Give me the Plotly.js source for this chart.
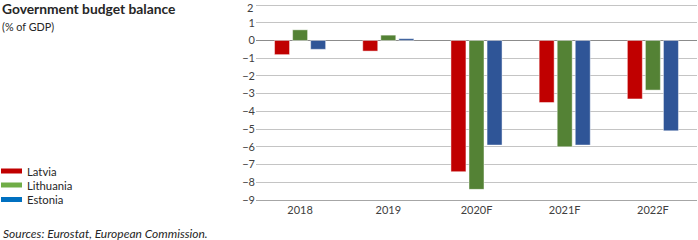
<!DOCTYPE html>
<html>
<head>
<meta charset="utf-8">
<script src="https://cdn.plot.ly/plotly-3.0.1.min.js"></script>
<style>
  html, body { margin: 0; padding: 0; background: #fff; }
  #chart { width: 698px; height: 240px; }
</style>
</head>
<body>
<div id="chart"></div>
<script>
// Government budget balance, % of GDP
const categories = ['2018', '2019', '2020F', '2021F', '2022F'];
const latvia    = [-0.8, -0.6, -7.4, -3.5, -3.3];
const lithuania = [ 0.6,  0.3, -8.4, -6.0, -2.8];
const estonia   = [-0.5,  0.1, -5.9, -5.9, -5.1];
const yTicks    = [2, 1, 0, -1, -2, -3, -4, -5, -6, -7, -8, -9];

const seriesNames = ['Latvia', 'Lithuania', 'Estonia'];
const barColors = ['#c00000', '#548235', '#2f5597'];
const legendColors = ['#c00000', '#70ad47', '#0070c0'];

const W = 698, H = 240;
const M = { l: 256, r: 1, t: 3, b: 40 };
const plotW = W - M.l - M.r, plotH = H - M.t - M.b;
// pixel -> paper helpers for the free-standing legend and notes
const px = x => (x - M.l) / plotW;
const py = y => (H - M.b - y) / plotH;

const font = 'Lato, "Open Sans", sans-serif';
const tickSize = 11;
const tickColor = '#404040';
const fmt = v => (v < 0 ? '\u2212' : '') + Math.abs(v);

const traces = [latvia, lithuania, estonia].map((vals, i) => ({
  type: 'bar',
  name: seriesNames[i],
  x: categories,
  y: vals,
  marker: { color: barColors[i], line: { color: 'rgba(255,255,255,0.45)', width: 1 } },
  showlegend: false,
  hoverinfo: 'x+y+name'
}));

const shapes = [];
const annotations = [
  { text: '<b>Government budget balance</b>', x: px(0), y: py(9), xref: 'paper', yref: 'paper',
    xanchor: 'left', yanchor: 'middle', showarrow: false, font: { family: font, size: 13.8, color: '#262626' } },
  { text: '(% of GDP)', x: px(0), y: py(26), xref: 'paper', yref: 'paper',
    xanchor: 'left', yanchor: 'middle', showarrow: false, font: { family: font, size: 10.8, color: '#262626' } },
  { text: '<i>Sources: Eurostat, European Commission.</i>', x: px(1), y: py(233), xref: 'paper', yref: 'paper',
    xanchor: 'left', yanchor: 'middle', showarrow: false, font: { family: font, size: 12, color: '#262626' } },
  // top tick label, nudged down a little so it stays inside the page
  { text: fmt(yTicks[0]), x: 0, xref: 'paper', xanchor: 'right', xshift: -2,
    y: yTicks[0], yref: 'y', yanchor: 'middle', yshift: -2.5, showarrow: false,
    borderpad: 0, font: { family: font, size: tickSize, color: tickColor } }
];

const legendY = [171, 185, 199.5];
seriesNames.forEach((name, i) => {
  shapes.push({
    type: 'rect', xref: 'paper', yref: 'paper',
    x0: px(1), x1: px(22), y0: py(legendY[i] - 2.5), y1: py(legendY[i] + 2.5),
    fillcolor: legendColors[i], line: { width: 0 }
  });
  annotations.push({
    text: name, x: px(25), y: py(legendY[i]), xref: 'paper', yref: 'paper',
    xanchor: 'left', yanchor: 'middle', showarrow: false,
    font: { family: font, size: 11.3, color: '#262626' }
  });
});

const layout = {
  width: W, height: H,
  margin: M,
  paper_bgcolor: '#fff', plot_bgcolor: '#fff',
  barmode: 'group',
  bargap: 0.386,
  bargroupgap: 0.17,
  font: { family: font, size: tickSize, color: tickColor },
  xaxis: {
    type: 'category',
    showgrid: false,
    showline: true, linecolor: '#a6a6a6', linewidth: 1,
    ticks: '', tickfont: { family: font, size: tickSize, color: tickColor },
    fixedrange: true
  },
  yaxis: {
    range: [-9, 2.113],
    tickmode: 'array', tickvals: yTicks,
    ticktext: yTicks.map((v, i) => (i === 0 ? '' : fmt(v))),
    showgrid: true, gridcolor: '#c4c4c4', gridwidth: 1,
    zeroline: true, zerolinecolor: '#8c8c8c', zerolinewidth: 1,
    showline: false,
    ticks: '',
    tickfont: { family: font, size: tickSize, color: tickColor },
    automargin: false,
    fixedrange: true
  },
  shapes: shapes,
  annotations: annotations,
  showlegend: false
};

Plotly.newPlot('chart', traces, layout, { displayModeBar: false, staticPlot: true });
</script>
</body>
</html>
